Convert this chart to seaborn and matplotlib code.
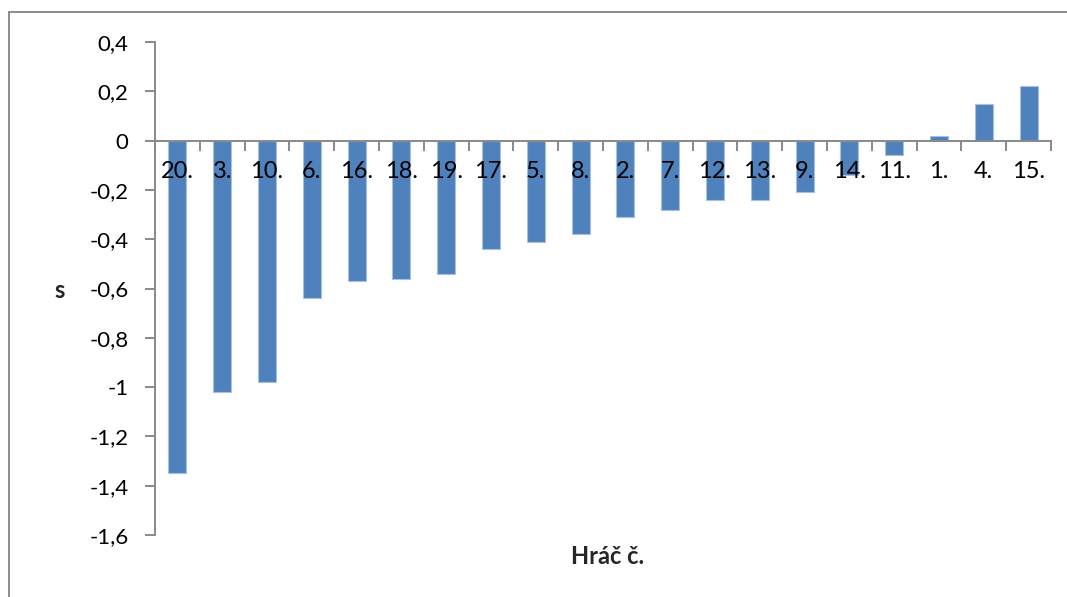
import matplotlib
matplotlib.use("Agg")
import matplotlib.pyplot as plt
from matplotlib.patches import Rectangle
import numpy as np
import pandas as pd
import seaborn as sns

# Players ordered by their s value
players = ["20.", "3.", "10.", "6.", "16.", "18.", "19.", "17.", "5.", "8.",
           "2.", "7.", "12.", "13.", "9.", "14.", "11.", "1.", "4.", "15."]
s_values = [-1.35, -1.02, -0.98, -0.64, -0.57, -0.56, -0.54, -0.44, -0.41, -0.38,
            -0.31, -0.28, -0.24, -0.24, -0.21, -0.14, -0.06, 0.02, 0.15, 0.22]
y_ticks = [0.4, 0.2, 0.0, -0.2, -0.4, -0.6, -0.8, -1.0, -1.2, -1.4, -1.6]
y_tick_labels = ["0,4", "0,2", "0", "-0,2", "-0,4", "-0,6", "-0,8", "-1", "-1,2", "-1,4", "-1,6"]

df = pd.DataFrame({"player": players, "s": s_values})

sns.set_style("white")
plt.rcParams["font.family"] = ["Lato", "DejaVu Sans"]

W, H, DPI = 1067, 597, 100
fig = plt.figure(figsize=(W / DPI, H / DPI), dpi=DPI)
ax = fig.add_axes([155 / W, 1 - 535 / H, (1051 - 155) / W, (535 - 42) / H])

bar_color = "#4F81BD"
sns.barplot(data=df, x="player", y="s", order=players, color=bar_color,
            width=0.4, edgecolor="#A7C0E0", linewidth=0.8, saturation=1, ax=ax)

# axis lines and category labels sit on top of the bars
ax.set_axisbelow(False)

axis_gray = "#898989"
ax.set_xlim(-0.5, len(players) - 0.5)
ax.set_ylim(-1.6, 0.4)

# y axis
ax.set_yticks(y_ticks)
ax.set_yticklabels(y_tick_labels, fontsize=16, color="black")
ax.tick_params(axis="y", direction="out", length=7, width=1.4, color=axis_gray, pad=12, left=True)

# x axis placed at zero, ticks between categories
ax.spines["bottom"].set_position(("data", 0))
ax.set_xticks(np.arange(len(players)))
ax.set_xticklabels(players, fontsize=17, color="black")
ax.set_xticks(np.arange(len(players) + 1) - 0.5, minor=True)
ax.tick_params(axis="x", which="major", length=0, pad=15, bottom=True)
ax.tick_params(axis="x", which="minor", direction="out", length=7, width=1.4,
               color=axis_gray, bottom=True)

for side in ["top", "right"]:
    ax.spines[side].set_visible(False)
for side in ["left", "bottom"]:
    ax.spines[side].set_color(axis_gray)
    ax.spines[side].set_linewidth(1.4)

ax.set_xlabel("")
ax.set_ylabel("")
fig.text(60 / W, 1 - 291 / H, "s", fontsize=17, fontweight="bold", ha="center", va="center")
fig.text(608 / W, 1 - 557 / H, "Hráč č.", fontsize=17, fontweight="bold", ha="center", va="center")

# outer chart frame
fig.add_artist(Rectangle((8.5 / W, -0.05), 1.2, 1 - 11.5 / H + 0.05,
                         transform=fig.transFigure, fill=False,
                         edgecolor="#8c8c8c", linewidth=1.4))

fig.savefig("out.png", dpi=DPI)
